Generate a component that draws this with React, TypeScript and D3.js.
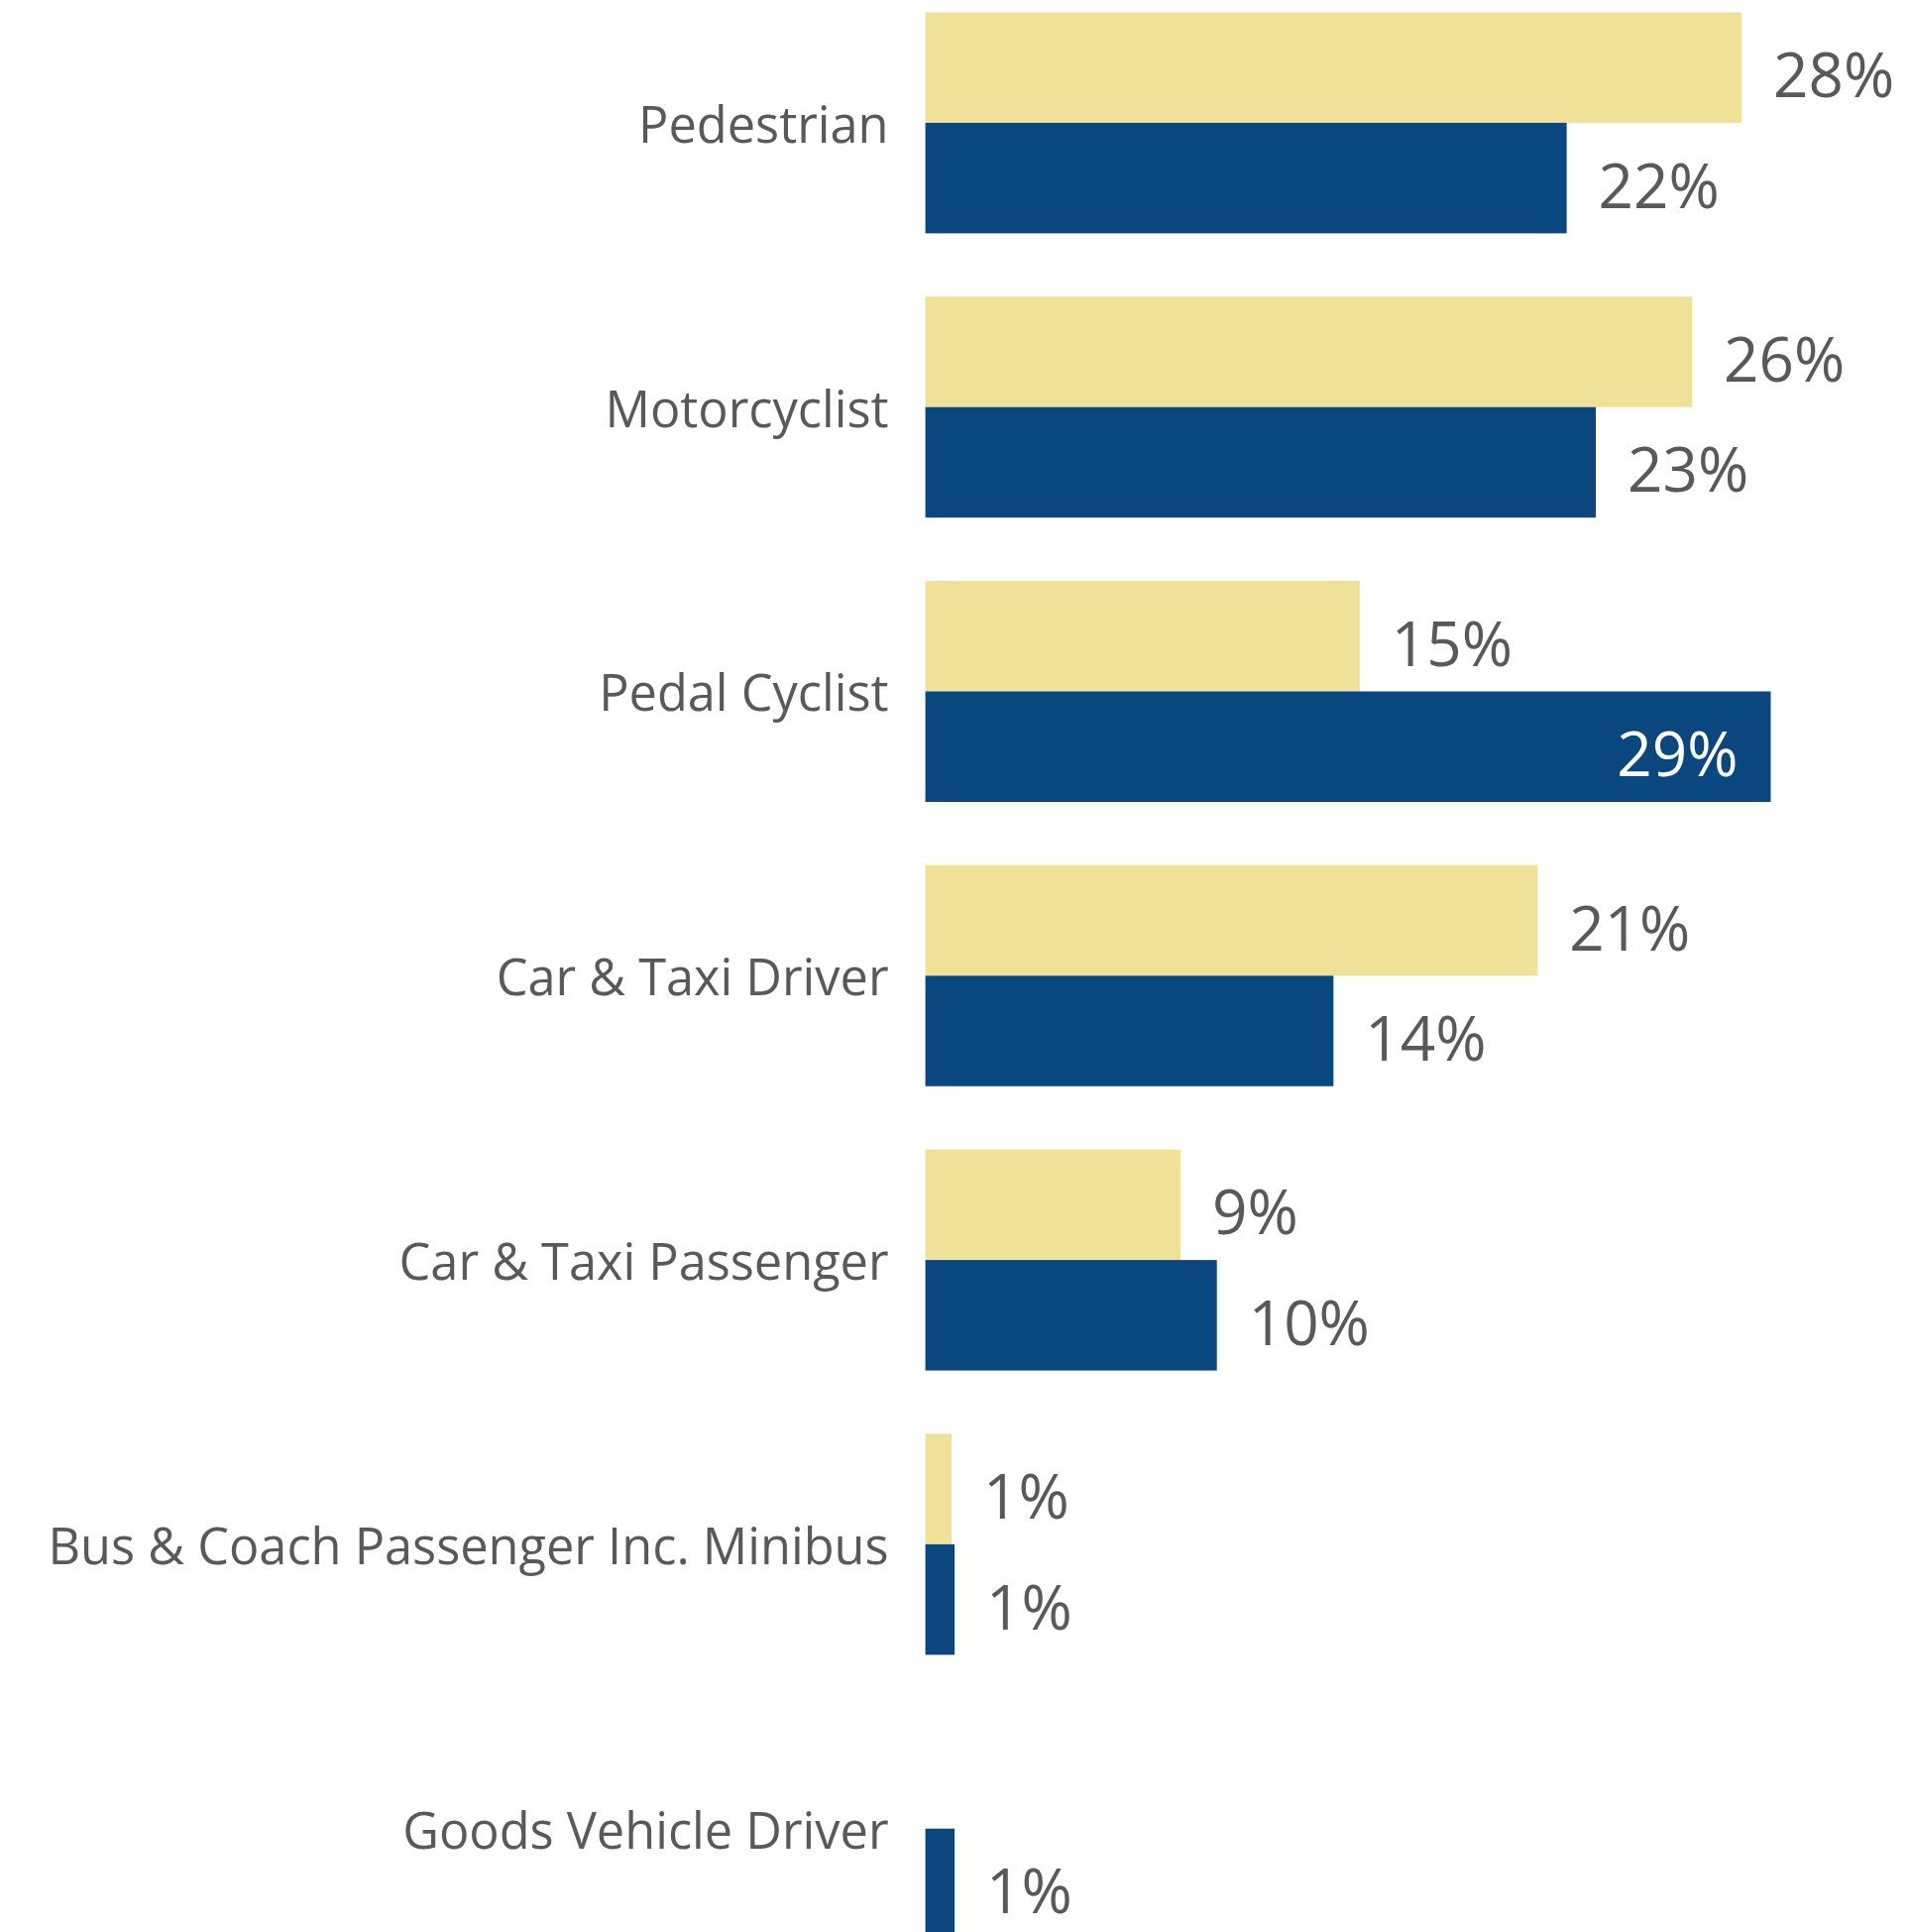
import React from "react";
import * as d3 from "d3";

const categories = [
  "Pedestrian",
  "Motorcyclist",
  "Pedal Cyclist",
  "Car & Taxi Driver",
  "Car & Taxi Passenger",
  "Bus & Coach Passenger Inc. Minibus",
  "Goods Vehicle Driver",
];
const seriesNames = ["Series A", "Series B"];
const seriesAValues = [28.0, 26.3, 14.9, 21.0, 8.75, 0.9, 0];
const seriesBValues = [22.0, 23.0, 29.0, 14.0, 10.0, 1.0, 1.0];
const seriesColors = ["#F0E199", "#0B477F"];
const xDomainMax = 30;

const W = 1927;
const H = 1960;

export default function App() {
  const left = 933.6;
  const step = 286.8;
  const padInner = 0.2225;
  const top = 12.4 - (step * padInner) / 2;

  const y0 = d3
    .scaleBand<string>()
    .domain(categories)
    .range([top, top + step * categories.length])
    .paddingInner(padInner)
    .paddingOuter(padInner / 2);
  const y1 = d3
    .scaleBand<string>()
    .domain(seriesNames)
    .range([0, y0.bandwidth()])
    .padding(0);
  const x = d3.scaleLinear().domain([0, xDomainMax]).range([0, 29.41 * xDomainMax]);

  const series = [seriesAValues, seriesBValues];
  const textColor = "#595959";
  const font = "'Segoe UI', 'Open Sans', 'Noto Sans', sans-serif";

  return (
    <svg
      width={W}
      height={H}
      style={{ position: "absolute", left: 0, top: 0, background: "#fff" }}
    >
      {categories.map((c, i) => {
        const gy = y0(c)!;
        return (
          <g key={c}>
            <text
              x={left - 37}
              y={gy + y0.bandwidth() / 2 + 20}
              textAnchor="end"
              fontFamily={font}
              fontSize={50.5}
              fill={textColor}
            >
              {c}
            </text>
            {series.map((vals, s) => {
              const v = vals[i];
              if (!v) return null;
              const by = gy + y1(seriesNames[s])!;
              const bw = x(v);
              const inside = v >= 29;
              return (
                <g key={s}>
                  <rect
                    x={left}
                    y={by}
                    width={bw}
                    height={y1.bandwidth()}
                    fill={seriesColors[s]}
                  />
                  <text
                    x={inside ? left + bw - 33 : left + bw + 32}
                    y={by + y1.bandwidth() / 2 + 30}
                    textAnchor={inside ? "end" : "start"}
                    fontFamily={font}
                    fontSize={62}
                    fill={inside ? "#ffffff" : textColor}
                  >
                    {Math.round(v) + "%"}
                  </text>
                </g>
              );
            })}
          </g>
        );
      })}
    </svg>
  );
}
